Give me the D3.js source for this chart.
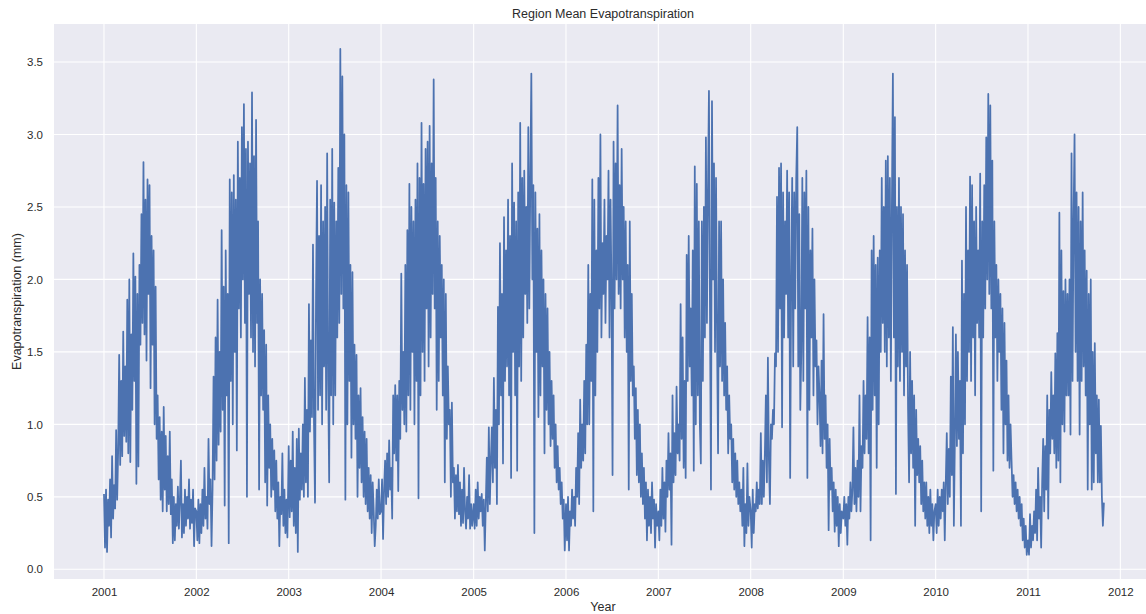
<!DOCTYPE html>
<html>
<head>
<meta charset="utf-8">
<script src="https://cdn.jsdelivr.net/npm/d3@7"></script>
<style>
  html, body { margin: 0; padding: 0; background: #ffffff; }
  svg { display: block; }
  text { font-family: "Liberation Sans", Arial, sans-serif; fill: #2b2b2b; }
</style>
</head>
<body>
<svg id="chart" width="1146" height="614"></svg>
<script>
// Daily regional mean evapotranspiration (mm), sampled every 4 days from 1 January of each year.
const et2001 = [0.52,0.15,0.55,0.12,0.48,0.30,0.62,0.22,0.78,0.35,0.58,0.42,0.96,0.48,0.82,
  1.48,0.72,1.30,0.78,1.64,0.92,1.40,0.88,1.86,0.80,2.00,0.74,1.62,1.10,2.18,1.30,2.02,
  0.59,1.90,0.71,2.10,1.55,2.45,1.70,2.81,1.62,2.55,1.44,2.69,1.90,2.65,1.25,2.30,
  1.55,2.20,1.00,1.95,0.90,1.20,0.62,1.05,0.48,0.95,0.40,1.12,0.55,0.92,0.40,0.78,
  0.45,0.95,0.38,0.62,0.18,0.50,0.20,0.45,0.30,0.57,0.28,0.48,0.75,0.22,0.45,0.25,
  0.55,0.30,0.50,0.35,0.62,0.28,0.48,0.32,0.55,0.16,0.42];
const et2002 = [0.40,0.20,0.48,0.18,0.45,0.25,0.55,0.30,0.70,0.35,0.50,0.28,0.90,0.45,0.62,0.16,0.55,
  1.33,0.62,1.60,0.75,1.86,0.86,1.50,0.95,2.34,1.10,1.95,0.44,2.20,1.20,1.90,0.18,
  2.69,1.30,2.60,1.00,2.72,1.50,2.55,0.82,2.95,1.80,2.70,1.60,3.05,2.00,3.21,1.70,
  2.90,0.50,2.95,1.90,2.80,1.60,3.29,1.50,2.85,1.40,3.10,1.70,2.40,0.55,2.00,1.20,
  1.90,1.10,1.65,0.60,1.55,0.44,1.20,0.70,1.00,0.50,0.90,0.55,0.82,0.40,0.75,0.35,
  0.60,0.16,0.50,0.38,0.80,0.30,0.55,0.25,0.48,0.22];
const et2003 = [0.85,0.36,0.75,0.40,0.95,0.30,0.70,0.25,0.90,0.12,0.97,0.48,0.80,0.55,1.00,0.50,
  1.32,0.60,1.10,0.50,1.83,0.95,1.58,1.05,2.24,1.00,0.46,1.90,2.68,1.10,2.30,1.20,
  2.65,1.00,2.40,1.40,2.50,1.10,2.87,1.30,0.60,2.55,1.20,2.90,1.00,2.53,1.20,2.40,
  1.60,2.77,1.70,3.59,1.90,3.40,1.80,3.00,0.48,2.65,1.00,2.60,1.30,2.10,0.77,2.05,
  1.00,1.55,0.90,1.48,0.50,1.20,0.70,1.25,0.60,1.05,0.50,0.95,0.45,0.90,0.40,0.70,
  0.35,0.65,0.25,0.60,0.40,0.16,0.30,0.55,0.35,0.62,0.38];
const et2004 = [0.40,0.62,0.21,0.55,0.75,0.45,0.80,0.50,0.89,0.55,0.70,0.35,
  1.20,0.80,1.27,0.75,1.20,0.54,1.30,0.90,2.04,1.10,1.50,1.00,2.10,0.95,2.34,1.20,
  2.66,1.10,2.50,1.50,2.40,1.00,2.55,1.30,2.80,0.49,2.70,1.20,3.08,1.50,2.66,1.30,
  2.90,1.80,2.95,1.40,3.06,1.60,2.80,1.90,3.38,1.80,2.70,1.10,2.40,1.30,2.30,1.60,
  2.10,1.20,2.00,0.60,1.90,0.90,1.40,1.00,1.10,0.50,1.15,0.60,0.70,0.35,0.65,0.40,
  0.72,0.38,0.60,0.30,0.55,0.32,0.70,0.40,0.28,0.50,0.35,0.65,0.28,0.45,0.30];
const et2005 = [0.45,0.28,0.55,0.30,0.60,0.35,0.50,0.40,0.52,0.30,0.48,0.13,0.45,
  0.77,0.40,0.98,0.45,0.75,0.98,0.60,1.32,0.70,1.10,0.45,1.81,1.00,2.25,1.20,1.90,
  0.73,2.43,1.30,2.20,1.40,2.55,1.20,2.30,0.63,2.80,1.50,2.53,1.20,2.40,0.68,2.60,
  1.40,3.08,1.30,2.70,1.60,2.75,1.90,2.50,1.70,3.05,1.80,2.70,3.42,2.00,2.65,0.25,
  2.60,1.50,2.35,1.05,2.45,1.20,2.20,1.40,2.00,0.80,1.90,1.10,1.80,1.00,1.50,0.85,
  1.30,0.90,1.20,0.70,1.00,0.60,0.85,0.55,0.70,0.45,0.60,0.35,0.48,0.13];
const et2006 = [0.45,0.20,0.50,0.13,0.40,0.30,0.55,0.35,0.50,0.30,0.70,0.50,0.94,0.45,
  1.17,0.70,1.00,0.75,1.30,0.80,1.55,1.00,2.10,1.00,1.90,1.30,2.69,0.40,2.55,1.20,
  2.20,1.50,2.70,1.80,3.00,1.60,2.25,1.90,2.55,1.70,2.30,2.00,2.75,1.60,2.55,1.90,
  0.65,2.95,1.80,2.80,2.00,3.20,1.90,2.65,1.80,2.90,2.00,2.50,1.60,2.40,1.50,2.10,
  0.55,2.40,1.30,1.90,1.20,1.40,0.90,1.25,0.65,1.10,0.60,1.00,0.50,0.80,0.45,0.70,
  0.35,0.60,0.20,0.55,0.30,0.50,0.25,0.60,0.35,0.48,0.15,0.45,0.30];
const et2007 = [0.40,0.20,0.55,0.30,0.70,0.35,0.60,0.26,0.75,0.50,0.94,0.55,0.80,0.17,
  1.20,0.60,0.94,0.65,1.26,0.80,1.00,0.75,1.83,0.90,1.60,0.70,1.30,0.63,2.17,1.30,
  2.30,1.40,1.80,1.20,2.20,0.68,2.78,1.00,2.66,1.20,2.40,1.00,0.73,2.40,1.30,2.50,
  1.60,2.98,1.70,2.60,3.30,1.80,0.55,3.23,2.00,2.80,1.50,2.70,1.60,0.80,2.40,1.40,
  2.40,1.30,2.00,1.20,1.70,1.10,1.40,0.80,1.20,0.90,1.00,0.60,0.90,0.55,0.80,0.50,
  0.75,0.45,0.60,0.40,0.55,0.30,0.70,0.16,0.45,0.25,0.73,0.30,0.50];
const et2008 = [0.40,0.15,0.55,0.25,0.45,0.40,0.60,0.42,0.55,0.45,0.94,0.45,0.75,0.50,0.80,
  1.20,0.60,1.46,0.75,0.45,1.00,0.90,1.10,1.00,1.49,1.40,2.57,1.50,2.77,1.80,
  2.80,0.98,2.60,1.60,2.40,1.90,2.75,1.60,2.60,0.63,2.00,2.70,1.40,2.60,1.80,
  2.70,3.05,1.40,2.45,1.10,1.50,2.70,1.30,2.60,1.80,2.75,0.63,2.50,1.10,2.20,
  1.60,2.35,1.20,2.00,1.40,1.58,1.00,1.40,1.20,0.85,1.44,0.80,1.76,0.90,1.20,
  0.70,1.00,0.27,0.90,0.55,0.70,0.40,0.60,0.26,0.55,0.30,0.50,0.16,0.45,0.25,0.40];
const et2009 = [0.35,0.50,0.30,0.45,0.17,0.50,0.35,0.60,0.40,0.55,0.98,0.45,0.70,0.40,0.75,
  0.50,1.20,0.40,0.85,0.70,1.30,0.80,1.20,0.90,1.74,0.80,1.60,0.20,2.20,1.10,
  2.30,1.20,2.10,0.70,2.15,1.00,2.20,1.50,2.70,1.70,2.50,1.50,2.82,1.40,2.85,
  1.60,2.70,1.30,2.50,3.42,1.60,3.12,0.52,2.50,1.40,2.70,1.30,2.50,1.50,2.45,
  1.20,2.20,1.40,2.10,1.10,0.60,1.50,0.80,1.30,0.70,1.20,0.30,1.10,0.65,0.90,
  0.60,0.85,0.45,0.75,0.40,0.60,0.35,0.60,0.30,0.50,0.25,0.55,0.30,0.45,0.20,0.40];
const et2010 = [0.45,0.25,0.55,0.30,0.50,0.35,0.55,0.40,0.60,0.20,0.60,0.94,0.45,0.83,0.50,
  1.33,0.65,1.67,0.30,0.90,1.62,0.85,1.50,0.90,1.30,0.30,2.13,0.80,1.90,1.00,
  2.50,1.30,2.20,1.50,2.71,1.30,2.65,1.60,2.40,1.20,2.50,1.70,2.20,1.60,2.73,
  0.40,2.40,1.60,2.65,1.80,2.98,2.00,3.28,1.90,3.20,1.80,2.82,0.68,2.40,1.60,
  2.10,1.30,2.00,1.50,1.90,1.10,1.80,0.80,1.70,1.00,1.44,0.75,1.20,0.70,1.00,
  0.75,0.50,0.65,0.45,0.60,0.40,0.55,0.35,0.50,0.30,0.45,0.20,0.35,0.15,0.30,0.10];
const et2011 = [0.20,0.10,0.38,0.15,0.30,0.20,0.40,0.25,0.55,0.20,0.70,0.35,0.50,0.15,0.60,
  0.90,0.40,0.85,0.55,1.20,0.35,1.10,0.80,1.36,0.90,1.20,0.80,1.49,0.70,1.63,
  0.75,2.46,0.60,2.20,1.00,1.92,0.95,2.00,1.20,1.90,1.20,2.00,0.93,2.87,1.30,
  2.40,3.00,1.50,2.60,1.30,2.50,0.93,2.40,1.30,2.60,1.40,2.20,1.20,2.06,0.55,
  1.90,1.00,2.00,0.55,1.50,0.60,1.56,0.80,1.20,0.60,1.17,0.60,0.99,0.50,0.30,0.46];

const years = [2001, 2002, 2003, 2004, 2005, 2006, 2007, 2008, 2009, 2010, 2011];
const yearValues = [et2001, et2002, et2003, et2004, et2005, et2006, et2007, et2008, et2009, et2010, et2011];
const stepDays = 4;

const yTicks = [0.0, 0.5, 1.0, 1.5, 2.0, 2.5, 3.0, 3.5];
const xTickYears = [2001, 2002, 2003, 2004, 2005, 2006, 2007, 2008, 2009, 2010, 2011, 2012];

const series = [];
years.forEach((yr, k) => {
  yearValues[k].forEach((v, i) => {
    series.push({ date: d3.timeDay.offset(new Date(yr, 0, 1), i * stepDays), value: v });
  });
});

const svg = d3.select("#chart");

// Axes geometry
const x = d3.scaleTime()
  .domain([new Date(2001, 0, 1), new Date(2011, 0, 1)])
  .range([104, 1028]);
const y = d3.scaleLinear().domain([0, 3.5]).range([569.3, 62]);

const panel = { left: 54, top: 24, right: 1152, bottom: 579 };

svg.append("rect")
  .attr("x", panel.left).attr("y", panel.top)
  .attr("width", panel.right - panel.left).attr("height", panel.bottom - panel.top)
  .attr("fill", "#EAEAF2");

svg.append("clipPath").attr("id", "plotClip")
  .append("rect")
  .attr("x", panel.left).attr("y", panel.top)
  .attr("width", panel.right - panel.left).attr("height", panel.bottom - panel.top);

// Grid lines
const grid = svg.append("g").attr("stroke", "#ffffff").attr("stroke-width", 1.1);
grid.selectAll("line.gx").data(xTickYears).join("line")
  .attr("class", "gx")
  .attr("x1", d => x(new Date(d, 0, 1))).attr("x2", d => x(new Date(d, 0, 1)))
  .attr("y1", panel.top).attr("y2", panel.bottom);
grid.selectAll("line.gy").data(yTicks).join("line")
  .attr("class", "gy")
  .attr("x1", panel.left).attr("x2", panel.right)
  .attr("y1", d => y(d)).attr("y2", d => y(d));

// Series line
const line = d3.line().x(d => x(d.date)).y(d => y(d.value));
svg.append("path")
  .datum(series)
  .attr("clip-path", "url(#plotClip)")
  .attr("fill", "none")
  .attr("stroke", "#4C72B0")
  .attr("stroke-width", 1.75)
  .attr("stroke-linejoin", "round")
  .attr("d", line);

// Tick labels
const xAxis = d3.axisBottom(x)
  .tickValues(xTickYears.map(d => new Date(d, 0, 1)))
  .tickFormat(d3.timeFormat("%Y"))
  .tickSize(0).tickPadding(9);
const gx = svg.append("g").attr("transform", `translate(0,${panel.bottom})`).call(xAxis);
gx.select(".domain").remove();
gx.selectAll("text").attr("font-size", 11.5).attr("font-family", "Liberation Sans, Arial, sans-serif").attr("fill", "#2b2b2b");

const yAxis = d3.axisLeft(y)
  .tickValues(yTicks)
  .tickFormat(d3.format(".1f"))
  .tickSize(0).tickPadding(11);
const gy = svg.append("g").attr("transform", `translate(${panel.left},0)`).call(yAxis);
gy.select(".domain").remove();
gy.selectAll("text").attr("font-size", 11.5).attr("font-family", "Liberation Sans, Arial, sans-serif").attr("fill", "#2b2b2b");

// Title and axis labels
const midX = (panel.left + panel.right) / 2;
svg.append("text")
  .attr("x", midX).attr("y", 18)
  .attr("text-anchor", "middle").attr("font-size", 12.5)
  .text("Region Mean Evapotranspiration");
svg.append("text")
  .attr("x", midX).attr("y", 611)
  .attr("text-anchor", "middle").attr("font-size", 12.5)
  .text("Year");
svg.append("text")
  .attr("transform", `translate(21,${(panel.top + panel.bottom) / 2}) rotate(-90)`)
  .attr("text-anchor", "middle").attr("font-size", 12.5)
  .text("Evapotranspiration (mm)");
</script>
</body>
</html>
